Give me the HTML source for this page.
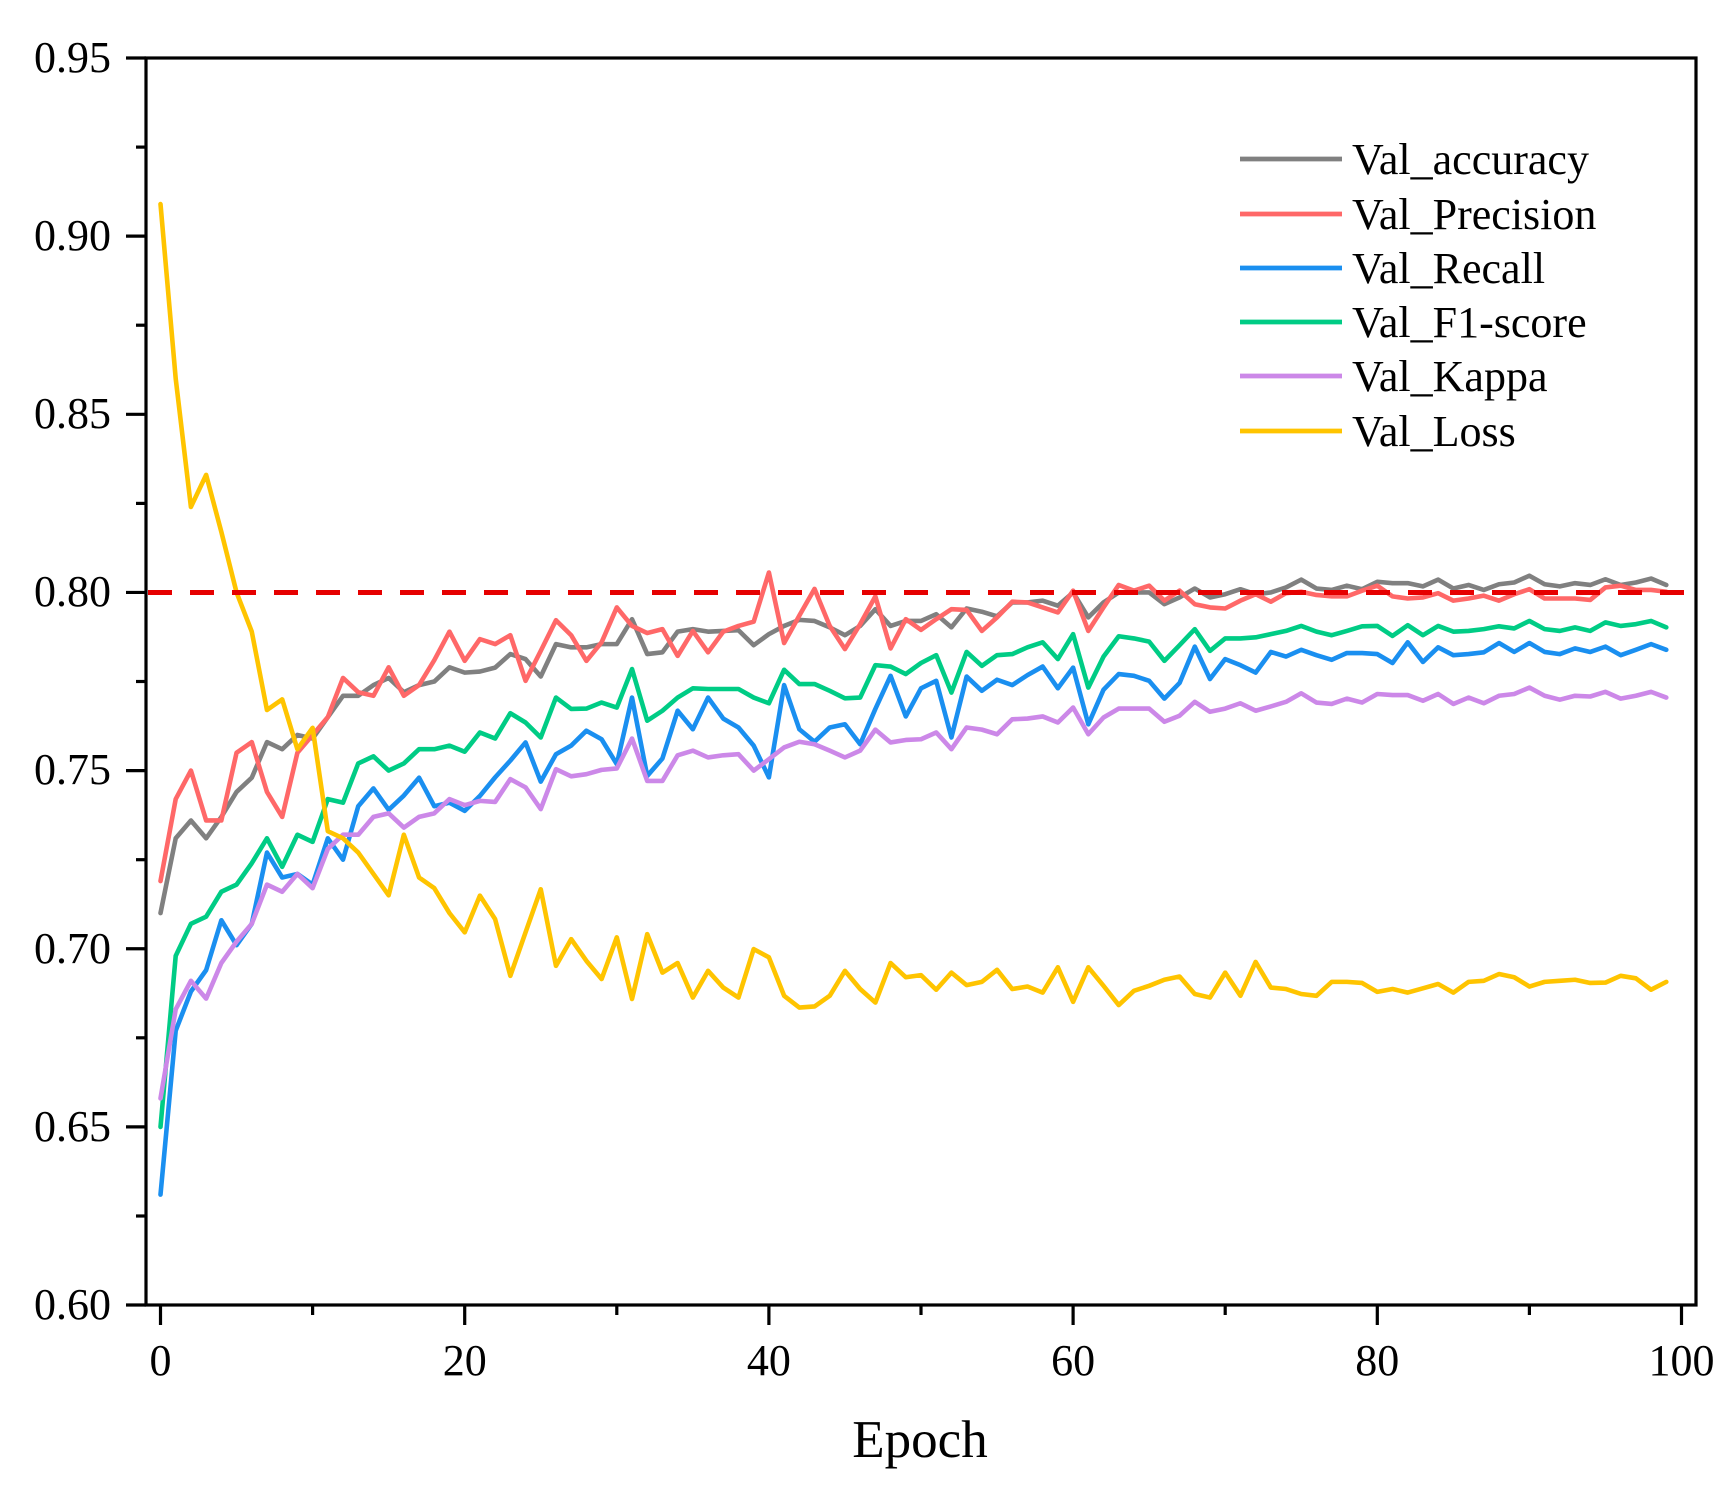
<!DOCTYPE html>
<html><head><meta charset="utf-8"><style>
html,body{margin:0;padding:0;background:#fff;}
svg{display:block;}
text{font-family:"Liberation Serif","Times New Roman",serif;fill:#000;}
</style></head><body>
<svg width="1735" height="1490" viewBox="0 0 1735 1490" xmlns="http://www.w3.org/2000/svg">
<rect x="0" y="0" width="1735" height="1490" fill="#fff"/>
<g transform="matrix(15.21 0 0 -3563 160.5 3442.85)" fill="none" stroke-linejoin="round" stroke-linecap="round">
<polyline vector-effect="non-scaling-stroke" stroke="#808080" stroke-width="4.6" points="0,0.710 1,0.731 2,0.736 3,0.731 4,0.737 5,0.744 6,0.748 7,0.758 8,0.756 9,0.760 10,0.759 11,0.765 12,0.771 13,0.771 14,0.774 15,0.776 16,0.772 17,0.774 18,0.775 19,0.779 20,0.7775 21,0.7778 22,0.7789 23,0.7827 24,0.7813 25,0.7764 26,0.7855 27,0.7846 28,0.7846 29,0.7855 30,0.7855 31,0.7925 32,0.7827 33,0.7832 34,0.789 35,0.7897 36,0.789 37,0.7892 38,0.7894 39,0.7852 40,0.7883 41,0.7906 42,0.7923 43,0.792 44,0.7902 45,0.788 46,0.7906 47,0.7953 48,0.7906 49,0.792 50,0.792 51,0.7939 52,0.7902 53,0.7955 54,0.7946 55,0.7933 56,0.7972 57,0.7972 58,0.7977 59,0.7963 60,0.80 61,0.793 62,0.7972 63,0.80 64,0.80 65,0.80 66,0.7967 67,0.7986 68,0.8011 69,0.7986 70,0.7995 71,0.8009 72,0.7995 73,0.80 74,0.8014 75,0.8036 76,0.8011 77,0.8007 78,0.8019 79,0.8009 80,0.803 81,0.8026 82,0.8026 83,0.8017 84,0.8036 85,0.8011 86,0.8021 87,0.8007 88,0.8023 89,0.8028 90,0.8047 91,0.8023 92,0.8017 93,0.8026 94,0.8021 95,0.8037 96,0.8021 97,0.8028 98,0.8039 99,0.8021"/>
<polyline vector-effect="non-scaling-stroke" stroke="#ff6868" stroke-width="4.6" points="0,0.719 1,0.742 2,0.750 3,0.736 4,0.736 5,0.755 6,0.758 7,0.744 8,0.737 9,0.755 10,0.760 11,0.765 12,0.776 13,0.772 14,0.771 15,0.779 16,0.771 17,0.774 18,0.781 19,0.789 20,0.7808 21,0.7869 22,0.7855 23,0.788 24,0.7752 25,0.7836 26,0.7922 27,0.788 28,0.7808 29,0.786 30,0.7958 31,0.7906 32,0.7886 33,0.7897 34,0.7822 35,0.7892 36,0.7832 37,0.789 38,0.7906 39,0.7918 40,0.8056 41,0.7858 42,0.7935 43,0.801 44,0.7906 45,0.7841 46,0.7911 47,0.7989 48,0.7843 49,0.7925 50,0.7895 51,0.7925 52,0.7953 53,0.7951 54,0.7892 55,0.793 56,0.7974 57,0.7972 58,0.7958 59,0.7944 60,0.8005 61,0.7892 62,0.7958 63,0.8021 64,0.8005 65,0.8019 66,0.7977 67,0.8005 68,0.7967 69,0.7958 70,0.7955 71,0.7977 72,0.7995 73,0.7974 74,0.7998 75,0.8002 76,0.7993 77,0.7989 78,0.7989 79,0.8005 80,0.8019 81,0.7989 82,0.7983 83,0.7986 84,0.7998 85,0.7977 86,0.7983 87,0.7991 88,0.7977 89,0.7995 90,0.8009 91,0.7983 92,0.7983 93,0.7983 94,0.7979 95,0.8014 96,0.8019 97,0.8007 98,0.8007 99,0.8002"/>
<polyline vector-effect="non-scaling-stroke" stroke="#1a8ff0" stroke-width="4.6" points="0,0.631 1,0.677 2,0.688 3,0.694 4,0.708 5,0.701 6,0.707 7,0.727 8,0.720 9,0.721 10,0.718 11,0.731 12,0.725 13,0.740 14,0.745 15,0.739 16,0.743 17,0.748 18,0.740 19,0.741 20,0.7387 21,0.7429 22,0.7481 23,0.7528 24,0.7579 25,0.7469 26,0.7546 27,0.757 28,0.7612 29,0.7588 30,0.7518 31,0.7705 32,0.7485 33,0.7534 34,0.7668 35,0.7616 36,0.7705 37,0.7646 38,0.7621 39,0.757 40,0.7481 41,0.774 42,0.7616 43,0.7581 44,0.7621 45,0.763 46,0.7574 47,0.7673 48,0.7766 49,0.7652 50,0.7731 51,0.7752 52,0.7593 53,0.7764 54,0.7724 55,0.7755 56,0.774 57,0.7768 58,0.7792 59,0.7731 60,0.7789 61,0.763 62,0.7727 63,0.7771 64,0.7766 65,0.7752 66,0.7702 67,0.7746 68,0.7848 69,0.7757 70,0.7813 71,0.7796 72,0.7775 73,0.7833 74,0.782 75,0.7839 76,0.7824 77,0.7811 78,0.783 79,0.783 80,0.7827 81,0.7802 82,0.786 83,0.7805 84,0.7846 85,0.7824 86,0.7827 87,0.7832 88,0.7858 89,0.7833 90,0.7858 91,0.7833 92,0.7827 93,0.7843 94,0.7833 95,0.7848 96,0.7824 97,0.7839 98,0.7855 99,0.7839"/>
<polyline vector-effect="non-scaling-stroke" stroke="#00cc85" stroke-width="4.6" points="0,0.650 1,0.698 2,0.707 3,0.709 4,0.716 5,0.718 6,0.724 7,0.731 8,0.723 9,0.732 10,0.730 11,0.742 12,0.741 13,0.752 14,0.754 15,0.750 16,0.752 17,0.756 18,0.756 19,0.757 20,0.7553 21,0.7607 22,0.759 23,0.7661 24,0.7635 25,0.7593 26,0.7705 27,0.7673 28,0.7674 29,0.7691 30,0.7677 31,0.7785 32,0.764 33,0.7668 34,0.7705 35,0.7731 36,0.7729 37,0.7729 38,0.7729 39,0.7705 40,0.7689 41,0.7783 42,0.7743 43,0.7743 44,0.7724 45,0.7703 46,0.7705 47,0.7796 48,0.7792 49,0.7771 50,0.7802 51,0.7824 52,0.7719 53,0.7833 54,0.7794 55,0.7824 56,0.7827 57,0.7846 58,0.786 59,0.7813 60,0.7883 61,0.7733 62,0.782 63,0.7877 64,0.7871 65,0.7862 66,0.7808 67,0.7852 68,0.7897 69,0.7836 70,0.7871 71,0.7871 72,0.7874 73,0.7883 74,0.7892 75,0.7906 76,0.789 77,0.788 78,0.7892 79,0.7905 80,0.7906 81,0.7878 82,0.7908 83,0.788 84,0.7906 85,0.789 86,0.7892 87,0.7897 88,0.7905 89,0.7899 90,0.792 91,0.7897 92,0.7892 93,0.7902 94,0.7892 95,0.7916 96,0.7906 97,0.7911 98,0.792 99,0.7902"/>
<polyline vector-effect="non-scaling-stroke" stroke="#cc88e8" stroke-width="4.6" points="0,0.658 1,0.683 2,0.691 3,0.686 4,0.696 5,0.702 6,0.707 7,0.718 8,0.716 9,0.721 10,0.717 11,0.728 12,0.732 13,0.732 14,0.737 15,0.738 16,0.734 17,0.737 18,0.738 19,0.742 20,0.7403 21,0.7415 22,0.7412 23,0.7476 24,0.7453 25,0.7392 26,0.7504 27,0.7484 28,0.749 29,0.7502 30,0.7506 31,0.759 32,0.7471 33,0.7471 34,0.7543 35,0.7556 36,0.7537 37,0.7543 38,0.7546 39,0.75 40,0.7532 41,0.7565 42,0.7581 43,0.7574 44,0.7556 45,0.7537 46,0.7556 47,0.7615 48,0.7579 49,0.7586 50,0.7588 51,0.7607 52,0.756 53,0.7621 54,0.7615 55,0.7602 56,0.7644 57,0.7646 58,0.7652 59,0.7635 60,0.7677 61,0.7602 62,0.7649 63,0.7674 64,0.7674 65,0.7674 66,0.7637 67,0.7654 68,0.7693 69,0.7665 70,0.7674 71,0.7689 72,0.7668 73,0.768 74,0.7693 75,0.7717 76,0.7691 77,0.7687 78,0.7702 79,0.7691 80,0.7715 81,0.7712 82,0.7712 83,0.7696 84,0.7715 85,0.7687 86,0.7705 87,0.7689 88,0.771 89,0.7715 90,0.7733 91,0.771 92,0.7699 93,0.771 94,0.7708 95,0.7721 96,0.7702 97,0.771 98,0.7721 99,0.7705"/>
<polyline vector-effect="non-scaling-stroke" stroke="#ffc400" stroke-width="4.6" points="0,0.909 1,0.860 2,0.824 3,0.833 4,0.817 5,0.800 6,0.789 7,0.767 8,0.770 9,0.756 10,0.762 11,0.733 12,0.731 13,0.727 14,0.721 15,0.715 16,0.732 17,0.720 18,0.717 19,0.710 20,0.7046 21,0.7149 22,0.7083 23,0.6924 24,0.7046 25,0.7167 26,0.6952 27,0.7027 28,0.6966 29,0.6915 30,0.7032 31,0.6859 32,0.7041 33,0.6933 34,0.696 35,0.6863 36,0.6938 37,0.6891 38,0.6863 39,0.6999 40,0.6976 41,0.6868 42,0.6835 43,0.6838 44,0.6868 45,0.6938 46,0.6887 47,0.6849 48,0.696 49,0.692 50,0.6926 51,0.6885 52,0.6933 53,0.6898 54,0.6907 55,0.6941 56,0.6887 57,0.6894 58,0.6877 59,0.6948 60,0.6851 61,0.6948 62,0.6896 63,0.6842 64,0.6882 65,0.6896 66,0.6913 67,0.6922 68,0.6873 69,0.6863 70,0.6933 71,0.6868 72,0.6963 73,0.6891 74,0.6887 75,0.6873 76,0.6868 77,0.6907 78,0.6907 79,0.6904 80,0.6879 81,0.6887 82,0.6877 83,0.6889 84,0.6901 85,0.6877 86,0.6907 87,0.691 88,0.6929 89,0.692 90,0.6894 91,0.6907 92,0.691 93,0.6913 94,0.6904 95,0.6905 96,0.6924 97,0.6917 98,0.6885 99,0.6907"/>
</g>
<line x1="148" y1="592.45" x2="1684" y2="592.45" stroke="#e60000" stroke-width="5" stroke-dasharray="24 18"/>
<rect x="146" y="58" width="1550" height="1247" fill="none" stroke="#000" stroke-width="3.2"/>
<g stroke="#000" stroke-width="3.2">
<line x1="126" y1="58" x2="146" y2="58"/><line x1="126" y1="236.15" x2="146" y2="236.15"/><line x1="126" y1="414.3" x2="146" y2="414.3"/><line x1="126" y1="592.45" x2="146" y2="592.45"/><line x1="126" y1="770.6" x2="146" y2="770.6"/><line x1="126" y1="948.75" x2="146" y2="948.75"/><line x1="126" y1="1126.9" x2="146" y2="1126.9"/><line x1="126" y1="1305" x2="146" y2="1305"/>
<line x1="136" y1="147.1" x2="146" y2="147.1"/><line x1="136" y1="325.2" x2="146" y2="325.2"/><line x1="136" y1="503.4" x2="146" y2="503.4"/><line x1="136" y1="681.5" x2="146" y2="681.5"/><line x1="136" y1="859.7" x2="146" y2="859.7"/><line x1="136" y1="1037.8" x2="146" y2="1037.8"/><line x1="136" y1="1216" x2="146" y2="1216"/>
<line x1="160.5" y1="1305" x2="160.5" y2="1325"/><line x1="464.7" y1="1305" x2="464.7" y2="1325"/><line x1="768.9" y1="1305" x2="768.9" y2="1325"/><line x1="1073.1" y1="1305" x2="1073.1" y2="1325"/><line x1="1377.3" y1="1305" x2="1377.3" y2="1325"/><line x1="1681.5" y1="1305" x2="1681.5" y2="1325"/>
<line x1="312.6" y1="1305" x2="312.6" y2="1315"/><line x1="616.8" y1="1305" x2="616.8" y2="1315"/><line x1="921" y1="1305" x2="921" y2="1315"/><line x1="1225.2" y1="1305" x2="1225.2" y2="1315"/><line x1="1529.4" y1="1305" x2="1529.4" y2="1315"/>
</g>
<g font-size="44" text-anchor="end">
<text x="111" y="72">0.95</text><text x="111" y="250">0.90</text><text x="111" y="428">0.85</text><text x="111" y="606">0.80</text><text x="111" y="784">0.75</text><text x="111" y="963">0.70</text><text x="111" y="1141">0.65</text><text x="111" y="1319">0.60</text>
</g>
<g font-size="44" text-anchor="middle">
<text x="160.5" y="1375">0</text><text x="464.7" y="1375">20</text><text x="768.9" y="1375">40</text><text x="1073.1" y="1375">60</text><text x="1377.3" y="1375">80</text><text x="1681.5" y="1375">100</text>
</g>
<text x="920" y="1457" font-size="53" text-anchor="middle">Epoch</text>
<g stroke-width="4.8">
<line x1="1240" y1="159" x2="1342" y2="159" stroke="#808080"/>
<line x1="1240" y1="214" x2="1342" y2="214" stroke="#ff6868"/>
<line x1="1240" y1="268" x2="1342" y2="268" stroke="#1a8ff0"/>
<line x1="1240" y1="322" x2="1342" y2="322" stroke="#00cc85"/>
<line x1="1240" y1="376" x2="1342" y2="376" stroke="#cc88e8"/>
<line x1="1240" y1="431" x2="1342" y2="431" stroke="#ffc400"/>
</g>
<g font-size="44">
<text x="1352" y="174">Val_accuracy</text>
<text x="1352" y="229">Val_Precision</text>
<text x="1352" y="283">Val_Recall</text>
<text x="1352" y="337">Val_F1-score</text>
<text x="1352" y="391">Val_Kappa</text>
<text x="1352" y="446">Val_Loss</text>
</g>
</svg>
</body></html>
